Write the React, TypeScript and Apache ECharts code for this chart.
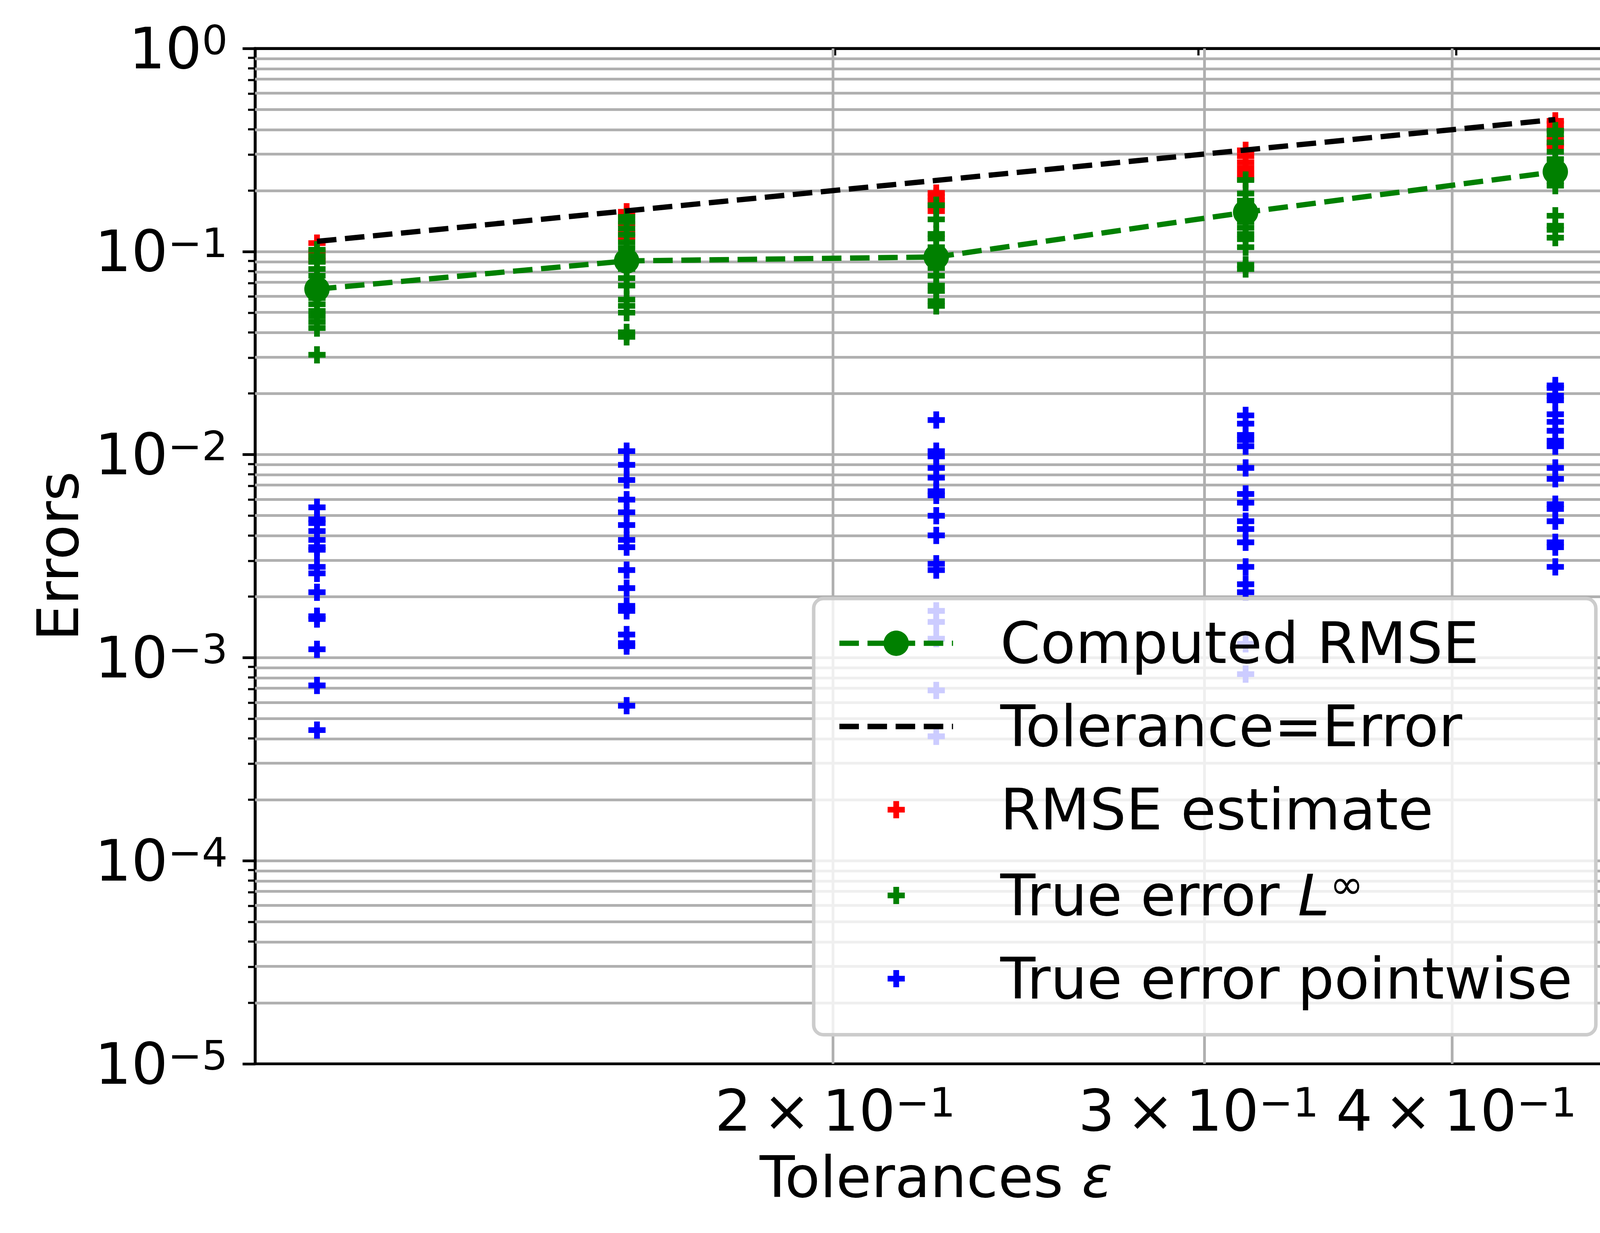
import React, { useEffect, useRef } from 'react';
import * as echarts from 'echarts';

// ---- data ----
const tolerances = [0.1122, 0.1585, 0.2239, 0.3162, 0.4467];
const computedRMSE = [0.0653, 0.0899, 0.094, 0.156, 0.247];

const rmseEstimate: number[][] = [
  [0.110, 0.100, 0.094, 0.090],
  [0.157, 0.150, 0.137, 0.124, 0.118],
  [0.194, 0.186, 0.178, 0.168, 0.158],
  [0.315, 0.295, 0.275, 0.258, 0.242, 0.228],
  [0.44, 0.425, 0.40, 0.36, 0.34, 0.33],
];

const trueErrorLinf: number[][] = [
  [0.102, 0.095, 0.089, 0.082, 0.076, 0.070, 0.064, 0.059, 0.055, 0.051, 0.048, 0.045, 0.042, 0.031],
  [0.148, 0.140, 0.130, 0.121, 0.111, 0.104, 0.097, 0.088, 0.082, 0.074, 0.068, 0.058, 0.054, 0.050, 0.040, 0.038],
  [0.169, 0.144, 0.122, 0.116, 0.105, 0.098, 0.090, 0.083, 0.076, 0.068, 0.064, 0.057, 0.054],
  [0.225, 0.193, 0.178, 0.166, 0.152, 0.140, 0.131, 0.122, 0.115, 0.105, 0.086, 0.082],
  [0.394, 0.378, 0.345, 0.31, 0.285, 0.26, 0.24, 0.222, 0.211, 0.150, 0.134, 0.128, 0.117],
];

const trueErrorPointwise: number[][] = [
  [0.0055, 0.0048, 0.0046, 0.0042, 0.0038, 0.0035, 0.0034, 0.0028, 0.0026, 0.0021, 0.0016, 0.00155, 0.0011, 0.00073, 0.00044],
  [0.0104, 0.0089, 0.0075, 0.0060, 0.0052, 0.0045, 0.0038, 0.0035, 0.0027, 0.0022, 0.0018, 0.0017, 0.0013, 0.00118, 0.00114, 0.00058],
  [0.0148, 0.0104, 0.0098, 0.0086, 0.0077, 0.0066, 0.0063, 0.0050, 0.0040, 0.0029, 0.0027, 0.0017, 0.0015, 0.00124, 0.00069, 0.00041],
  [0.0156, 0.0142, 0.0125, 0.0118, 0.0110, 0.0086, 0.0064, 0.0058, 0.0047, 0.0043, 0.0037, 0.0028, 0.0023, 0.0021, 0.00117, 0.00083],
  [0.0219, 0.0213, 0.0195, 0.0185, 0.0158, 0.0145, 0.0131, 0.0117, 0.011, 0.0086, 0.0076, 0.0057, 0.0054, 0.0047, 0.0037, 0.0035, 0.0028],
];

const xTickValues = [0.2, 0.3, 0.4];
const yDecadeMin = -5;
const yDecadeMax = 0;
const xLogMin = -0.98;
const xLogMax = -0.32;

const NAME_RMSE = 'Computed RMSE';
const NAME_TOL = 'Tolerance=Error';
const NAME_EST = 'RMSE estimate';
const NAME_LINF = 'True error L\u221E';
const NAME_PW = 'True error pointwise';

// ---- style ----
const W = 4193;
const H = 3156;
const FONT = 'DejaVu Sans';
const FS = 147;
const FS_SUP = 104;
const LW = 13.6;
const DASH = [50, 22];
const PLUS = 'path://M1,0H2V1H3V2H2V3H1V2H0V1H1Z';
const PLUS_LEGEND = 'path://M-1.26,-1.26M4.26,4.26M1,0H2V1H3V2H2V3H1V2H0V1H1Z';
const DASH_LEGEND = 'path://M0,0H50V14H0Z M72,0H122V14H72Z M144,0H194V14H144Z M216,0H266V14H216Z M288,0H291V14H288Z';

const minorY: number[] = [];
for (let e = yDecadeMin; e < yDecadeMax; e++) {
  for (let k = 2; k <= 9; k++) minorY.push(e + Math.log10(k));
}
const xTickLog = xTickValues.map((v) => Math.log10(v));

const toPts = (cols: number[][]) =>
  cols.flatMap((vals, i) => vals.map((v) => [Math.log10(tolerances[i]), Math.log10(v)]));

const supRich = {
  b: { fontFamily: FONT, fontSize: FS, lineHeight: FS, color: '#000' },
  s: { fontFamily: FONT, fontSize: FS_SUP, lineHeight: 70, verticalAlign: 'top', color: '#000' },
};

const expStr = (e: number) => (e < 0 ? '\u2212' + -e : String(e));

function buildOption(): any {
  const scatterBase = {
    type: 'scatter',
    symbol: PLUS,
    symbolSize: 44,
    z: 3,
    silent: true,
    emphasis: { disabled: true },
  };
  return {
    animation: false,
    backgroundColor: '#ffffff',
    grid: {
      left: 653,
      right: 53,
      top: 124,
      bottom: 433,
      show: true,
      borderColor: '#000',
      borderWidth: 7,
      backgroundColor: 'transparent',
      containLabel: false,
      outerBoundsMode: 'none',
    },
    xAxis: {
      type: 'value',
      min: xLogMin,
      max: xLogMax,
      name: '{n|Tolerances }{e|\u03B5}',
      nameLocation: 'middle',
      nameGap: 217,
      nameTextStyle: {
        fontFamily: FONT,
        fontSize: FS,
        color: '#000',
        rich: {
          n: { fontFamily: FONT, fontSize: FS, lineHeight: FS, color: '#000' },
          e: { fontFamily: FONT, fontSize: FS, lineHeight: FS, fontStyle: 'italic', color: '#000' },
        },
      },
      axisLine: { show: true, lineStyle: { color: '#000', width: 7 } },
      axisTick: {
        show: true,
        customValues: xTickLog,
        length: 18,
        lineStyle: { color: '#000', width: 5.5 },
      },
      axisLabel: {
        show: true,
        customValues: xTickLog,
        margin: 47,
        formatter: (v: number) => {
          const e = Math.floor(v + 1e-9);
          const m = Math.round(Math.pow(10, v - e));
          return `{b|${m}\u2009\u00D7\u200910}{s|${expStr(e)}}`;
        },
        rich: supRich,
      },
      splitLine: { show: false },
    },
    yAxis: [
      {
        type: 'value',
        min: yDecadeMin,
        max: yDecadeMax,
        interval: 1,
        position: 'left',
        name: 'Errors',
        nameLocation: 'middle',
        nameGap: 430,
        nameTextStyle: { fontFamily: FONT, fontSize: FS, color: '#000' },
        axisLine: { show: true, lineStyle: { color: '#000', width: 7 } },
        axisTick: { show: true, length: 32, lineStyle: { color: '#000', width: 7 } },
        axisLabel: {
          show: true,
          margin: 70,
          formatter: (v: number) => `{b|10}{s|${expStr(Math.round(v))}}`,
          rich: supRich,
        },
        splitLine: {
          show: true,
          showMinLine: false,
          showMaxLine: false,
          lineStyle: { color: '#b0b0b0', width: 7 },
        },
      },
      {
        type: 'value',
        min: yDecadeMin,
        max: yDecadeMax,
        position: 'left',
        offset: 0,
        axisLine: { show: false },
        axisLabel: { show: false },
        splitLine: { show: false },
        axisTick: {
          show: true,
          customValues: minorY,
          length: 18,
          lineStyle: { color: '#000', width: 5.5 },
        },
      },
    ],
    legend: {
      show: true,
      orient: 'vertical',
      left: 2083,
      top: 1532,
      padding: [41, 60, 70, 59],
      itemGap: 66,
      itemWidth: 291,
      itemHeight: 81,
      backgroundColor: 'rgba(255,255,255,0.8)',
      borderColor: '#cccccc',
      borderWidth: 9,
      borderRadius: 25,
      z: 10,
      selectedMode: false,
      lineStyle: { width: LW, type: DASH, cap: 'butt' },
      data: [
        { name: NAME_RMSE, lineStyle: { width: LW, type: DASH, color: '#008000' } },
        { name: NAME_TOL, icon: DASH_LEGEND },
        { name: NAME_EST, icon: PLUS_LEGEND },
        { name: NAME_LINF, icon: PLUS_LEGEND },
        { name: NAME_PW, icon: PLUS_LEGEND },
      ],
      formatter: (name: string) =>
        name === NAME_LINF ? '{n|True error }{i|L}{s|\u221E}' : `{n|${name}}`,
      textStyle: {
        fontFamily: FONT,
        fontSize: FS,
        color: '#000',
        padding: [0, 0, 0, 116],
        rich: {
          n: { fontFamily: FONT, fontSize: FS, lineHeight: 160, color: '#000' },
          i: { fontFamily: FONT, fontSize: FS, lineHeight: 160, fontStyle: 'italic', color: '#000' },
          s: { fontFamily: FONT, fontSize: FS_SUP, lineHeight: 70, verticalAlign: 'top', color: '#000' },
        },
      },
    },
    series: [
      {
        type: 'line',
        name: '_grid',
        data: [],
        z: 1,
        silent: true,
        markLine: {
          silent: true,
          z: 1,
          symbol: ['none', 'none'],
          label: { show: false },
          emphasis: { disabled: true },
          lineStyle: { color: '#b0b0b0', width: 7, type: 'solid' },
          data: [
            ...minorY.map((v) => ({ yAxis: v })),
            ...xTickLog.map((v) => ({ xAxis: v })),
          ],
        },
      },
      {
        ...scatterBase,
        name: NAME_EST,
        itemStyle: { color: '#ff0000', opacity: 1 },
        data: toPts(rmseEstimate),
      },
      {
        ...scatterBase,
        name: NAME_LINF,
        itemStyle: { color: '#008000', opacity: 1 },
        data: toPts(trueErrorLinf),
      },
      {
        ...scatterBase,
        name: NAME_PW,
        itemStyle: { color: '#0000ff', opacity: 1 },
        data: toPts(trueErrorPointwise),
      },
      {
        type: 'line',
        name: NAME_TOL,
        z: 4,
        silent: true,
        symbol: 'none',
        emphasis: { disabled: true },
        itemStyle: { color: '#000' },
        lineStyle: { color: '#000', width: LW, type: DASH },
        data: tolerances.map((t) => [Math.log10(t), Math.log10(t)]),
      },
      {
        type: 'line',
        name: NAME_RMSE,
        z: 4,
        silent: true,
        symbol: 'circle',
        symbolSize: 65,
        emphasis: { disabled: true },
        itemStyle: { color: '#008000' },
        lineStyle: { color: '#008000', width: LW, type: DASH },
        data: computedRMSE.map((v, i) => [Math.log10(tolerances[i]), Math.log10(v)]),
      },
    ],
  };
}

export default function App() {
  const ref = useRef<HTMLDivElement>(null);
  useEffect(() => {
    document.body.style.margin = '0';
    const chart = echarts.init(ref.current!, null, { renderer: 'svg', width: W, height: H });
    chart.setOption(buildOption());
    return () => chart.dispose();
  }, []);
  return <div ref={ref} style={{ width: W, height: H, background: '#fff' }} />;
}
